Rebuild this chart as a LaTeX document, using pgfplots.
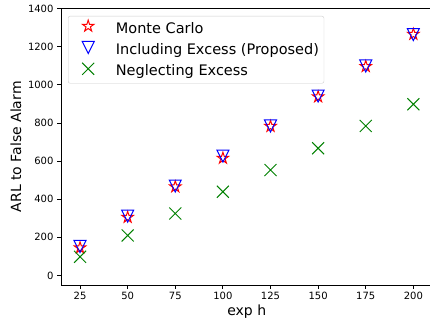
\documentclass[border=0pt]{standalone}
\usepackage{pgfplots}
\pgfplotsset{compat=1.18}
\usepackage{fontspec}
\setmainfont{DejaVu Sans}
\definecolor{mplgreen}{rgb}{0,0.5,0}
\makeatletter
\pgfdeclareplotmark{ostar}{%
  \pgfpathmoveto{\pgfpointpolar{90}{\pgfplotmarksize}}%
  \pgfpathlineto{\pgfpointpolar{126}{0.382\pgfplotmarksize}}%
  \pgfpathlineto{\pgfpointpolar{162}{\pgfplotmarksize}}%
  \pgfpathlineto{\pgfpointpolar{198}{0.382\pgfplotmarksize}}%
  \pgfpathlineto{\pgfpointpolar{234}{\pgfplotmarksize}}%
  \pgfpathlineto{\pgfpointpolar{270}{0.382\pgfplotmarksize}}%
  \pgfpathlineto{\pgfpointpolar{306}{\pgfplotmarksize}}%
  \pgfpathlineto{\pgfpointpolar{342}{0.382\pgfplotmarksize}}%
  \pgfpathlineto{\pgfpointpolar{18}{\pgfplotmarksize}}%
  \pgfpathlineto{\pgfpointpolar{54}{0.382\pgfplotmarksize}}%
  \pgfpathclose\pgfusepathqstroke}
\pgfdeclareplotmark{vtri}{%
  \pgfpathmoveto{\pgfqpoint{0pt}{-\pgfplotmarksize}}%
  \pgfpathlineto{\pgfqpoint{-\pgfplotmarksize}{\pgfplotmarksize}}%
  \pgfpathlineto{\pgfqpoint{\pgfplotmarksize}{\pgfplotmarksize}}%
  \pgfpathclose\pgfusepathqstroke}
\pgfdeclareplotmark{bigx}{%
  \pgfpathmoveto{\pgfqpoint{-\pgfplotmarksize}{-\pgfplotmarksize}}%
  \pgfpathlineto{\pgfqpoint{\pgfplotmarksize}{\pgfplotmarksize}}%
  \pgfpathmoveto{\pgfqpoint{-\pgfplotmarksize}{\pgfplotmarksize}}%
  \pgfpathlineto{\pgfqpoint{\pgfplotmarksize}{-\pgfplotmarksize}}%
  \pgfusepathqstroke}
\makeatother
\begin{document}
\begin{tikzpicture}
\begin{axis}[
  name=ax,
  scale only axis,
  width=371.4pt, height=276.5pt,
  xmin=15, xmax=210,
  ymin=-50, ymax=1400,
  xtick={25,50,...,200},
  ytick={0,200,...,1400},
  tick align=outside,
  tick pos=left,
  major tick length=3.5pt,
  every tick/.style={black, line width=0.8pt},
  axis line style={line width=0.8pt},
  /pgf/number format/1000 sep={},
  /pgf/number format/assume math mode=true,
  tick label style={font=\fontsize{10}{12}\selectfont},
  xticklabel style={yshift=-0.5pt},
  yticklabel style={xshift=-0.5pt},
  xlabel={exp h},
  ylabel={ARL to False Alarm},
  label style={font=\fontsize{14}{16}\selectfont},
  xlabel style={at={(axis description cs:0.5,0)}, anchor=center, yshift=-27pt},
  ylabel style={at={(axis description cs:-0.1212,0.5)}, anchor=center},
  legend style={at={(0,1)}, anchor=north west, xshift=7pt, yshift=-7.5pt,
    draw=black!20, rounded corners=2pt, font=\fontsize{14.5}{16}\selectfont,
    inner xsep=5pt, inner ysep=4pt, row sep=4.8pt,
    nodes={inner xsep=0pt, inner ysep=0pt, text height=10.5pt, text depth=3.5pt}},
  legend cell align=left,
  legend image code/.code={\path[draw=none] (0pt,0pt) -- (42.7pt,0pt); \draw plot coordinates {(15pt,3.5pt)};},
]
\addplot[only marks, red, mark=ostar, mark size=6pt, line width=1pt]
  coordinates {(25,145)(50,305)(75,465)(100,615)(125,782)(150,937)(175,1096)(200,1265)};
\addlegendentry{Monte Carlo}
\addplot[only marks, blue, mark=vtri, mark size=6pt, line width=1pt]
  coordinates {(25,152)(50,311)(75,469)(100,626)(125,784)(150,941)(175,1099)(200,1263)};
\addlegendentry{Including Excess (Proposed)}
\addplot[only marks, mplgreen, mark=bigx, mark size=6pt, line width=1pt]
  coordinates {(25,98)(50,210)(75,325)(100,439)(125,553)(150,667)(175,784)(200,898)};
\addlegendentry{Neglecting Excess}
\end{axis}
\pgfresetboundingbox
\path ([shift={(-61pt,-39pt)}]ax.south west) rectangle ([shift={(369pt,285pt)}]ax.south west);
\end{tikzpicture}
\end{document}
